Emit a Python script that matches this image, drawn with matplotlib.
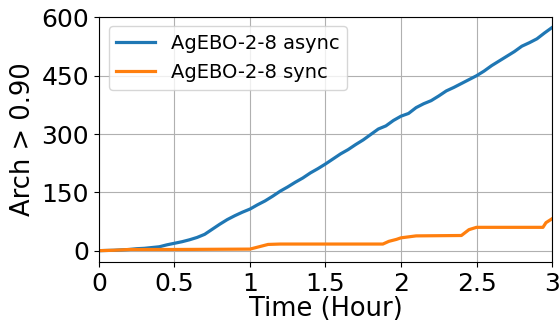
import matplotlib
matplotlib.use("Agg")
import matplotlib.pyplot as plt

# async series (time in hours, count)
t_async = [0, 0.1, 0.2, 0.25, 0.3, 0.4, 0.45, 0.5, 0.55, 0.6, 0.65, 0.7, 0.75, 0.8, 0.85, 0.9, 0.95,
           1.0, 1.05, 1.1, 1.15, 1.2, 1.25, 1.3, 1.35, 1.4, 1.45, 1.5, 1.55, 1.6, 1.65, 1.7, 1.75,
           1.8, 1.85, 1.9, 1.95, 2.0, 2.05, 2.1, 2.15, 2.2, 2.25, 2.3, 2.35, 2.4, 2.45, 2.5, 2.55,
           2.6, 2.65, 2.7, 2.75, 2.8, 2.85, 2.9, 2.95, 3.0]
y_async = [0, 1, 3, 5, 6, 10, 15, 19, 23, 28, 34, 42, 55, 68, 80, 90, 99,
           107, 118, 128, 140, 153, 164, 176, 187, 200, 211, 223, 236, 249, 260, 273, 285,
           299, 313, 321, 335, 346, 353, 368, 378, 386, 398, 411, 420, 430, 440, 450, 462,
           476, 488, 500, 512, 526, 535, 545, 560, 574]

# sync series
t_sync = [0, 0.1, 0.2, 0.5, 1.0, 1.03, 1.08, 1.12, 1.2, 1.5, 1.88, 1.92, 1.97, 2.0, 2.1, 2.4,
          2.42, 2.45, 2.5, 2.7, 2.94, 2.96, 3.0]
y_sync = [0, 1, 3, 3, 4, 7, 12, 16, 17, 17, 17, 24, 29, 33, 38, 39,
          45, 54, 60, 60, 60, 72, 82]

xticks = [0, 0.5, 1, 1.5, 2, 2.5, 3]
xtick_labels = ["0", "0.5", "1", "1.5", "2", "2.5", "3"]
yticks = [0, 150, 300, 450, 600]

fig = plt.figure(figsize=(5.59, 3.27), dpi=100)
ax = fig.add_axes([0.177, 0.199, 0.8105, 0.75])
ax.plot(t_async, y_async, color="#1f77b4", lw=2.3, label="AgEBO-2-8 async")
ax.plot(t_sync, y_sync, color="#ff7f0e", lw=2.3, label="AgEBO-2-8 sync")
ax.set_xlim(0, 3)
ax.set_ylim(-29, 602)
ax.set_xticks(xticks)
ax.set_xticklabels(xtick_labels)
ax.set_yticks(yticks)
ax.tick_params(labelsize=18)
ax.set_xlabel("Time (Hour)", fontsize=18.5, labelpad=0)
ax.set_ylabel("Arch > 0.90", fontsize=18.5)
ax.grid(True)
ax.legend(loc="upper left", fontsize=14)
fig.savefig("out.png", dpi=100)
